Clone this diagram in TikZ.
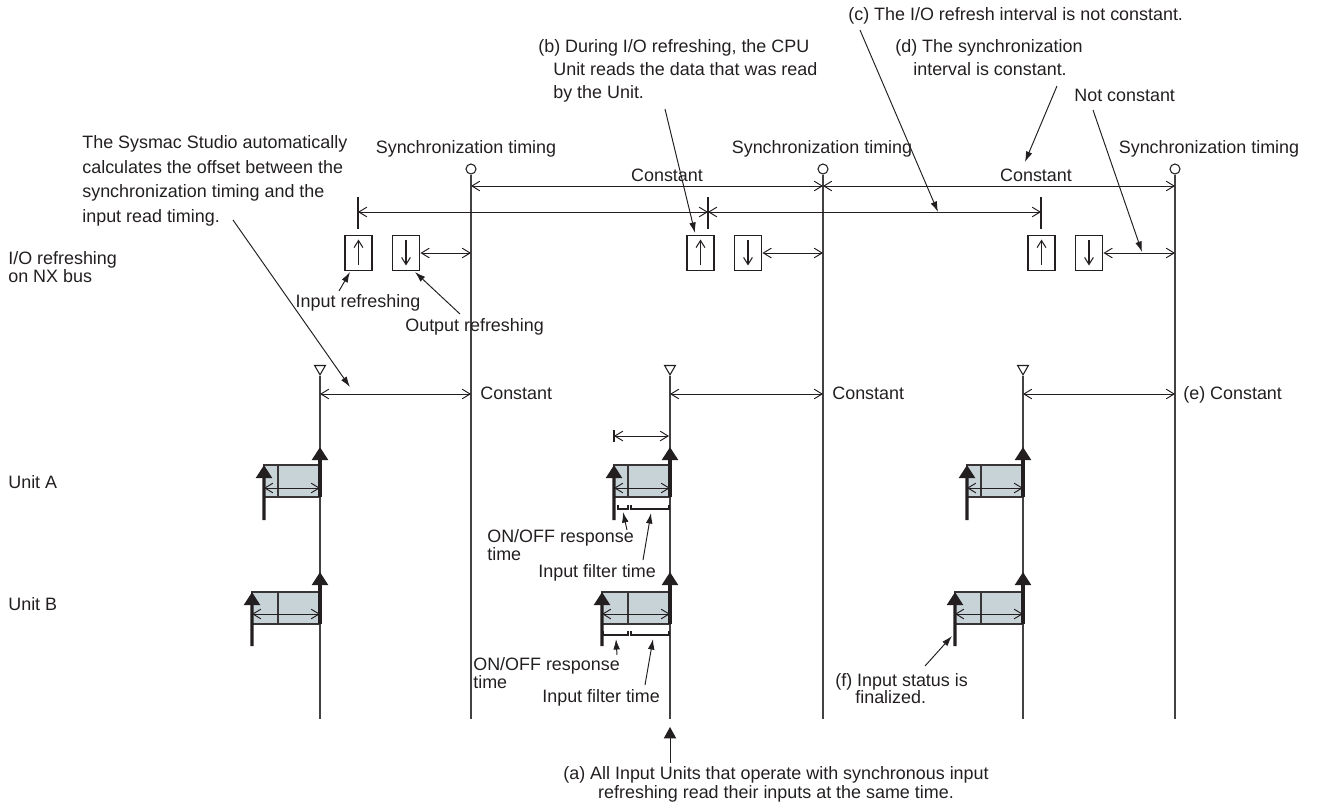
\documentclass[tikz,border=0pt]{standalone}
\usepackage{fontspec}
\setmainfont{Liberation Sans}
\usetikzlibrary{positioning, arrows.meta, shapes.geometric, calc}
\usepackage{xcolor}
\definecolor{ink}{HTML}{231F20}
\definecolor{boxgray}{HTML}{C8D3D8}

\tikzset{
  lbl/.style={font=\fontsize{10.2}{13}\selectfont, inner sep=0pt, anchor=base west, align=left, text=ink},
  dim/.style={draw=ink, line width=0.55pt, {Straight Barb[length=4.5pt,width=5.5pt]}-{Straight Barb[length=4.5pt,width=5.5pt]}},
  ptr/.style={draw=ink, line width=0.55pt, -{Latex[length=6pt,width=3.8pt]}},
  thinline/.style={draw=ink, line width=0.6pt},
  tline/.style={draw=ink!85, line width=0.7pt},
  updn/.style={draw=ink, line width=0.6pt, -{Straight Barb[length=4pt,width=5pt]}},
  thickup/.style={draw=ink, line width=1.9pt, -{Triangle[length=7.5pt,width=9pt]}},
  unitbox/.style={draw=ink!90, fill=boxgray, line width=1.1pt, inner sep=0pt, outer sep=0pt, minimum height=0.64cm},
  divider/.style={draw=ink!90, line width=1.1pt},
  iobox/.style={draw=ink, line width=1.1pt, inner sep=0pt, minimum width=0.54cm, minimum height=0.7cm},
  syncmark/.style={circle, draw=ink, line width=0.6pt, inner sep=0pt, minimum size=0.2cm},
  readmark/.style={regular polygon, regular polygon sides=3, shape border rotate=180, draw=ink, line width=0.6pt, inner sep=0pt, minimum size=0.25cm},
}

\begin{document}
\begin{tikzpicture}[x=0.02cm, y=-0.02cm]
  \useasboundingbox (0,0) rectangle (1320,812);

  \foreach \n/\x in {1/471, 2/823, 3/1175} {
    \node[syncmark] (s\n) at (\x,169) {};
    \coordinate (se\n) at (\x,719);
    \draw[tline] (s\n) -- (se\n);
    \coordinate (k\n) at (\x,186);
  }
  \foreach \n/\x in {1/320, 2/670, 3/1023} {
    \node[readmark] (r\n) at (\x,368.6) {};
    \coordinate (re\n) at (\x,719);
    \draw[tline] (r\n) -- (re\n);
  }

  \node[lbl, anchor=base] (st1) at (466,153) {Synchronization timing};
  \node[lbl, anchor=base] (st2) at (822,153) {Synchronization timing};
  \node[lbl, anchor=base] (st3) at (1209,153) {Synchronization timing};

  \draw[dim] (k1) -- (k2);
  \draw[dim] (k2) -- (k3);
  \node[lbl, anchor=base] (ct1) at (667,181) {Constant};
  \node[lbl, anchor=base] (ct2) at (1036,181) {Constant};

  \foreach \n/\x in {1/358, 2/708, 3/1041} {
    \coordinate (q\n) at (\x,212);
    \draw[thinline] (\x,197) -- (\x,229);
  }
  \draw[dim] (q1) -- (q2);
  \draw[dim] (q2) -- (q3);

  \foreach \n/\i/\o in {1/358.5/406, 2/700.5/748, 3/1041.5/1089} {
    \node[iobox] (in\n) at (\i,253) {};
    \node[iobox] (out\n) at (\o,253) {};
    \draw[updn] ($(in\n.south)+(0,-6)$) -- ($(in\n.north)+(0,5)$);
    \draw[updn] ($(out\n.north)+(0,5)$) -- ($(out\n.south)+(0,-6)$);
    \draw[dim] (out\n.east) -- (out\n.east -| s\n);
  }

  \foreach \n/\t in {1/320, 2/670, 3/1023} {
    \coordinate (w\n) at (\t,394);
    \draw[dim] (w\n) -- (w\n -| s\n);
    \node[unitbox, minimum width=1.12cm, anchor=north east] (ua\n) at (\t,465) {};
    \node[unitbox, minimum width=1.36cm, anchor=north east] (ub\n) at (\t,592) {};
    \draw[divider] (\t-42,465) -- (\t-42,497);
    \draw[divider] (\t-42,592) -- (\t-42,624);
    \draw[dim] (ua\n.west |- 0,488) -- (ua\n.east |- 0,488);
    \draw[dim] (ub\n.west |- 0,614) -- (ub\n.east |- 0,614);
    \draw[thickup] (ua\n.south east) -- (\t,447);
    \draw[thickup] (\t-56,520) -- (ua\n.north west);
    \draw[thickup] (ub\n.south east) -- (\t,572);
    \draw[thickup] (\t-68,646) -- (ub\n.north west);
  }

  \draw[dim] (614,436) -- (669,436);
  \draw[thinline] (614,430) -- (614,442);
  \draw[thinline] (618,505) -- (618,509) -- (628,509) -- (628,505);
  \draw[thinline] (631,505) -- (631,509) -- (669,509) -- (669,505);
  \draw[thinline] (603,631) -- (603,635) -- (628,635) -- (628,631);
  \draw[thinline] (631,631) -- (631,635) -- (669,635) -- (669,631);

  \node[lbl] (lblc) at (848,20) {(c) The I/O refresh interval is not constant.};
  \node[lbl] (lblb) at (538,98) {(b) During I/O refreshing, the CPU\\\hspace*{0.3cm}Unit reads the data that was read\\\hspace*{0.3cm}by the Unit.};
  \node[lbl] (lbld) at (895,75) {(d) The synchronization\\\hspace*{0.36cm}interval is constant.};
  \node[lbl] (notc) at (1074,101) {Not constant};
  \node[lbl, font=\fontsize{10.2}{13.9}\selectfont] (sysmac) at (82,222) {The Sysmac Studio automatically\\calculates the offset between the\\synchronization timing and the\\input read timing.};
  \node[lbl, font=\fontsize{10.2}{9.7}\selectfont] (ioref) at (8,282) {I/O refreshing\\on NX bus};
  \node[lbl, anchor=base] (inref) at (358,307) {Input refreshing};
  \node[lbl] (outref) at (405,331) {Output refreshing};
  \node[lbl] (cb1) at (480,399) {Constant};
  \node[lbl] (cb2) at (832,399) {Constant};
  \node[lbl] (cb3) at (1183,399) {(e) Constant};
  \node[lbl] (unita) at (8,488) {Unit A};
  \node[lbl] (unitb) at (8,610) {Unit B};
  \node[lbl, font=\fontsize{10.2}{9.8}\selectfont] (onoffa) at (487,560) {ON/OFF response\\time};
  \node[lbl] (filta) at (538,577) {Input filter time};
  \node[lbl, font=\fontsize{10.2}{9.8}\selectfont] (onoffb) at (473,688) {ON/OFF response\\time};
  \node[lbl] (filtb) at (542,702) {Input filter time};
  \node[lbl, font=\fontsize{10.2}{9.6}\selectfont] (lblf) at (835,703) {(f) Input status is\\\hspace*{0.4cm}finalized.};
  \node[lbl, anchor=base, align=center, font=\fontsize{10.2}{9.2}\selectfont] (lbla) at (776,798) {(a) All Input Units that operate with synchronous input\\refreshing read their inputs at the same time.};

  \coordinate (sysT) at (233,220);  \coordinate (sysH) at (350,387);
  \coordinate (bT) at (665,109);    \coordinate (bH) at (695,233);
  \coordinate (cT) at (860,30);     \coordinate (cH) at (938,212);
  \coordinate (dT) at (1057,86);    \coordinate (dH) at (1025,162);
  \coordinate (nT) at (1093,110);   \coordinate (nH) at (1142,252);
  \coordinate (iT) at (339,291);    \coordinate (iH) at (350,272);
  \coordinate (oT) at (460,314);    \coordinate (oH) at (415,272);
  \coordinate (oaT) at (627,530);   \coordinate (oaH) at (623,512);
  \coordinate (faT) at (643,560);   \coordinate (faH) at (651,513);
  \coordinate (obT) at (617,655);   \coordinate (obH) at (616,639);
  \coordinate (fbT) at (645,685);   \coordinate (fbH) at (653,639);
  \coordinate (fT) at (925,666);    \coordinate (fH) at (952,636);
  \coordinate (aT) at (670,763);    \coordinate (aH) at (670,727);
  \foreach \p in {sys,b,c,d,n,i,o,oa,fa,ob,fb,f} {
    \draw[ptr] (\p T) -- (\p H);
  }
  \draw[ptr, -{Triangle[length=6.5pt,width=7pt]}] (aT) -- (aH);
\end{tikzpicture}
\end{document}
